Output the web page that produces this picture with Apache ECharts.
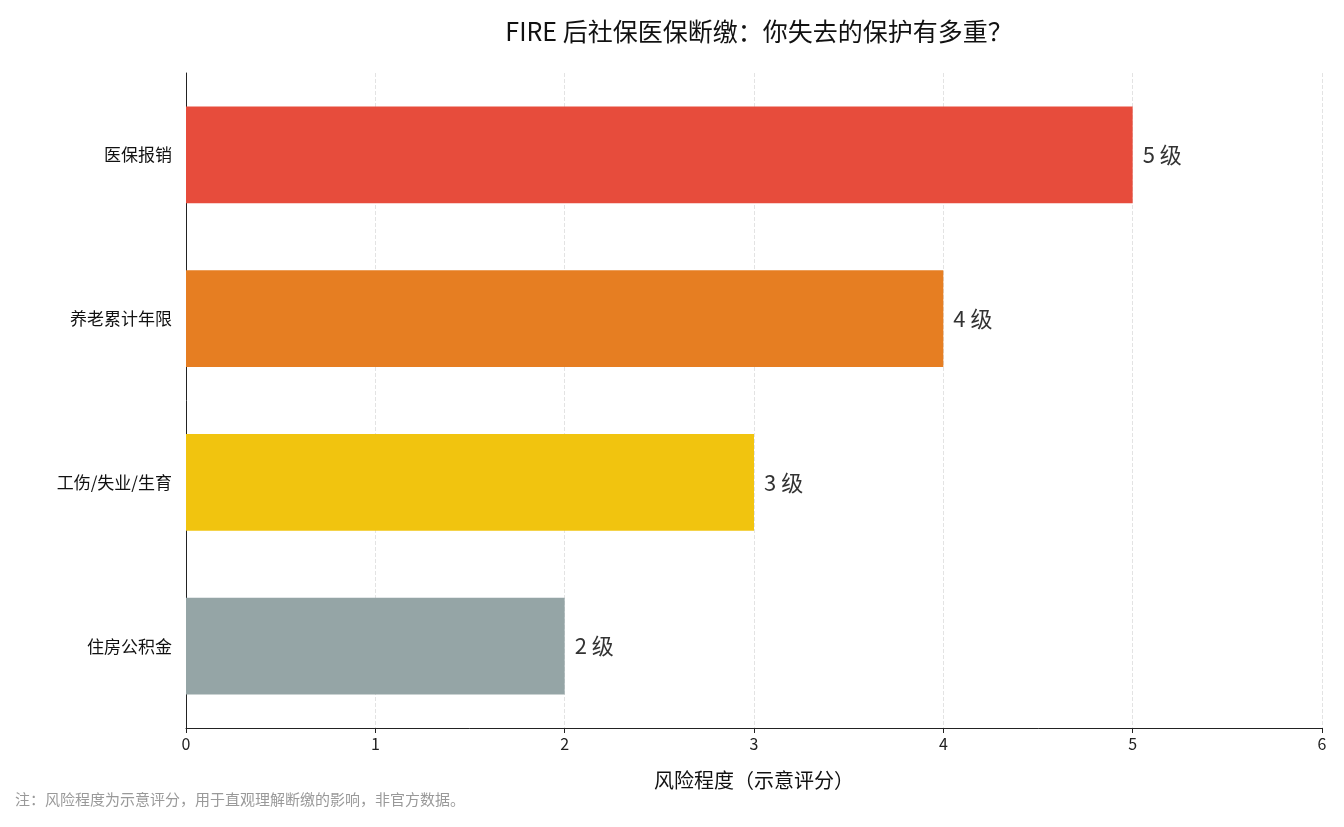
<!DOCTYPE html>
<html><head><meta charset="utf-8">
<script src="https://cdn.jsdelivr.net/npm/echarts@6/dist/echarts.min.js"></script>
<style>html,body{margin:0;padding:0;background:#fff}#c{width:1344px;height:827px}</style>
</head><body><div id="c"></div>
<script>
const categories = ['医保报销','养老累计年限','工伤/失业/生育','住房公积金'];
const values = [5,4,3,2];
const colors = ['#e74c3c','#e67e22','#f1c40f','#95a5a6'];
const xTicks = [0,1,2,3,4,5,6];
const F = '"Noto Sans CJK SC","Noto Sans",sans-serif';
const chart = echarts.init(document.getElementById('c'));
chart.setOption({
  animation:false,
  textStyle:{fontFamily:F},
  title:{text:'FIRE 后社保医保断缴：你失去的保护有多重？',left:754,textAlign:'center',top:14,
    textStyle:{fontSize:25,fontWeight:'normal',color:'#111',fontFamily:F}},
  graphic:[{type:'text',left:15,top:792,style:{text:'注：风险程度为示意评分，用于直观理解断缴的影响，非官方数据。',fontSize:15,fill:'#999',fontFamily:F}}],
  grid:{left:186,right:22,top:73,bottom:99},
  xAxis:{type:'value',min:0,max:6,interval:1,
    name:'风险程度（示意评分）',nameLocation:'middle',nameGap:42,
    nameTextStyle:{fontSize:20,color:'#111'},
    axisLine:{show:true,lineStyle:{color:'#222'}},
    axisTick:{show:true,lineStyle:{color:'#222'}},
    axisLabel:{fontSize:16,color:'#222',formatter:v=>xTicks.includes(v)?String(v):''},
    splitLine:{show:true,lineStyle:{type:'dashed',color:'#e3e3e3'}}},
  yAxis:{type:'category',data:categories,inverse:true,
    axisLine:{show:true,lineStyle:{color:'#222'}},
    axisTick:{show:false},
    axisLabel:{fontSize:17,color:'#111',margin:14}},
  series:[{type:'bar',barWidth:'59%',
    data:values.map((v,i)=>({value:v,itemStyle:{color:colors[i]}})),
    label:{show:true,position:'right',distance:10,fontSize:22,color:'#333',formatter:p=>p.value+' 级'}}]
});
</script></body></html>
